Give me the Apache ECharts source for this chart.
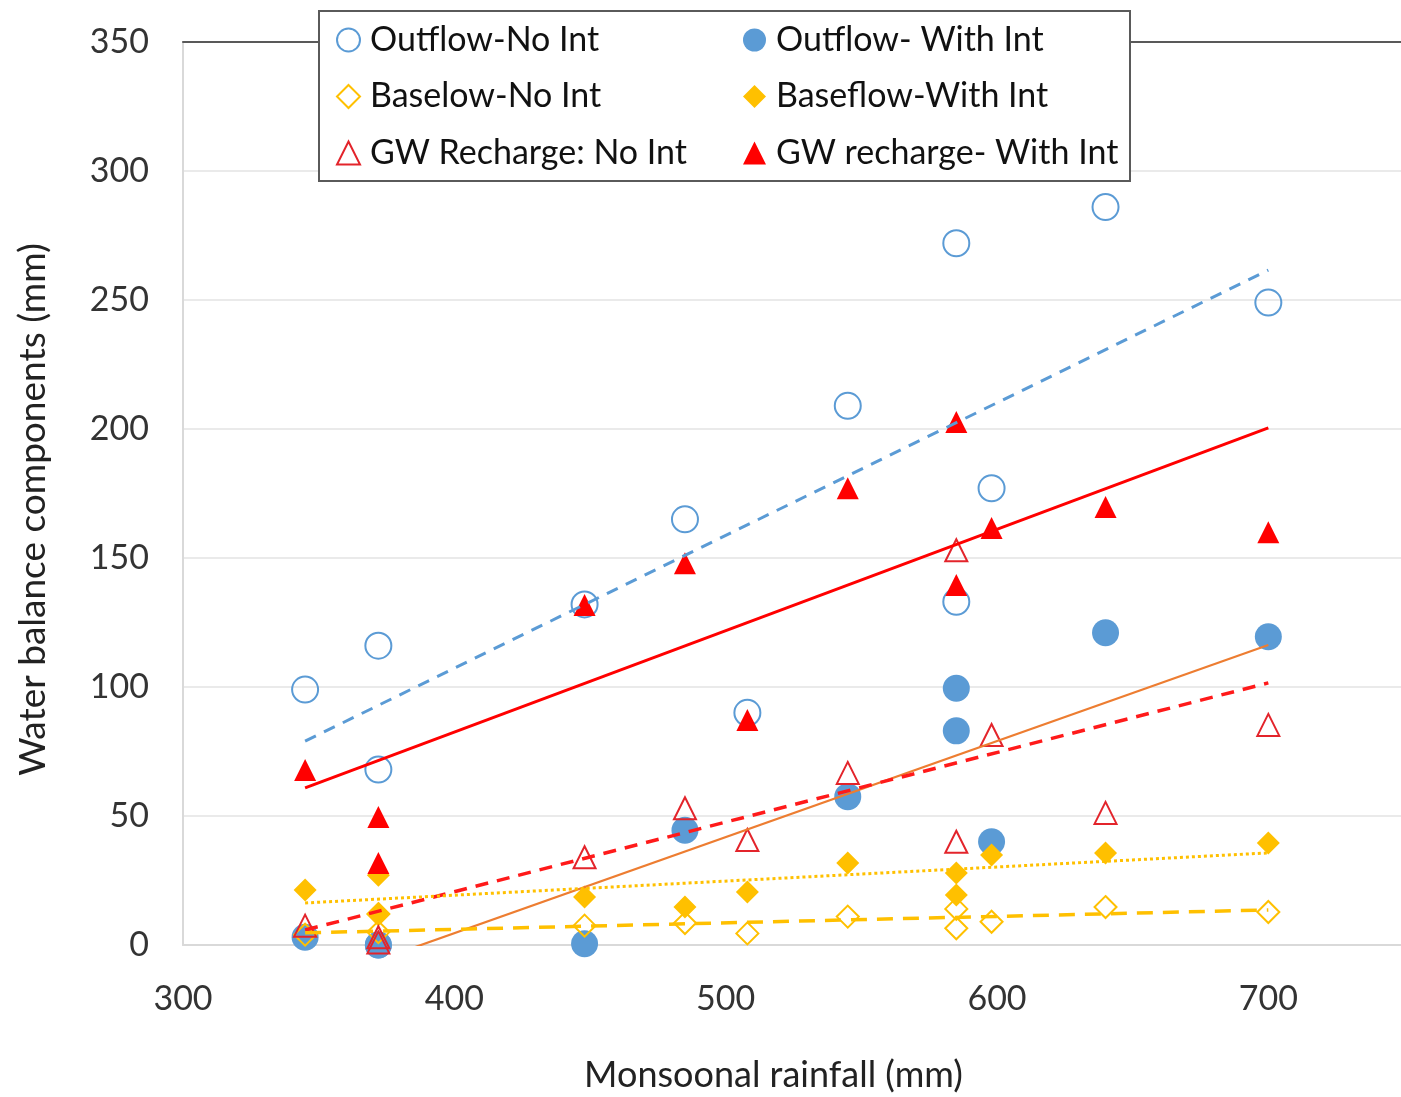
<!DOCTYPE html>
<html><head><meta charset="utf-8">
<script src="https://cdn.jsdelivr.net/npm/echarts@6/dist/echarts.min.js"></script>
<style>html,body{margin:0;padding:0;background:#fff}#c{width:1401px;height:1097px}</style>
</head><body><div id="c"></div>
<script>
// Monsoonal rainfall (mm) of each year
const rainfall = [345, 372, 372, 448, 485, 508, 545, 585, 585, 598, 640, 700];
// Water balance components (mm)
const outflowNoInt   = [99, 116, 68, 132, 165, 90, 209, 272, 133, 177, 286, 249];
const outflowWithInt = [3, 0, 0, 0.5, 44.5, null, 57.5, 99.5, 83, 40, 121, 119.5];
const baseNoInt      = [4, 5, 12, 7.5, 8.5, 4.5, 11, 14, 6.5, 9, 14.7, 12.8];
const baseWithInt    = [21.3, 27, 12, 18.6, 14.7, 20.5, 31.8, 27.9, 19.4, 34.9, 35.7, 39.5];
const gwNoInt        = [7.5, 3, 1, 34, 53, 40.7, 66.7, 153, 40, 81.4, 51.2, 85.3];
const gwWithInt      = [67.8, 49.6, 31.8, 131.8, 148, 87.2, 177, 202.7, 139.5, 161.6, 169.8, 160];
// Linear trend lines (start / end)
const trendX = [345, 700];
const trendOutflowNoInt   = [79, 261.6];
const trendOutflowWithInt = [-15.9, 116.3];
const trendBaseNoInt      = [4.7, 13.6];
const trendBaseWithInt    = [16.3, 35.7];
const trendGwNoInt        = [5.8, 101.6];
const trendGwWithInt      = [60.9, 200.4];
const xTicks = [300, 400, 500, 600, 700];
const yTicks = [0, 50, 100, 150, 200, 250, 300, 350];

const names = ['Outflow-No Int', 'Outflow- With Int', 'Baselow-No Int', 'Baseflow-With Int', 'GW Recharge: No Int', 'GW recharge- With Int'];
const FONT = 'Lato';
const pts = v => rainfall.map((x, i) => [x, v[i]]).filter(p => p[1] !== null);
const tr = v => trendX.map((x, i) => [x, v[i]]);
const hollow = 'rgba(255,255,255,0)';

function scatter(name, data, symbol, size, fill, border, z) {
  return {
    type: 'scatter', name, data: pts(data), symbol, symbolSize: size, clip: false, z,
    itemStyle: { color: fill, borderColor: border, borderWidth: fill === hollow ? 2 : 0, opacity: 1 },
    emphasis: { disabled: true }
  };
}
function trend(data, color, width, type) {
  return {
    type: 'line', data: tr(data), showSymbol: false, symbol: 'none', clip: true, z: 5, silent: true,
    lineStyle: { color, width, type }, emphasis: { disabled: true }
  };
}
const legendText = { fontSize: 34, color: '#111', fontFamily: FONT, padding: [0, 0, 0, 5] };

const chart = echarts.init(document.getElementById('c'), null, { renderer: 'canvas' });
chart.setOption({
  animation: false,
  backgroundColor: '#fff',
  textStyle: { fontFamily: FONT },
  grid: { left: 183, width: 1221, top: 42, bottom: 152, containLabel: false, outerBoundsMode: 'none' },
  xAxis: [{
    type: 'value', min: 300, max: 750, interval: 100, position: 'bottom',
    name: 'Monsoonal rainfall (mm)', nameLocation: 'middle', nameGap: 112,
    nameTextStyle: { fontSize: 36, color: '#222', fontFamily: FONT, padding: [0, 40, 0, 0] },
    axisLine: { show: true, lineStyle: { color: '#D9D9D9', width: 2 } },
    axisTick: { show: false }, splitLine: { show: false },
    axisLabel: { fontSize: 34, color: '#333', margin: 37, fontFamily: FONT,
      formatter: v => xTicks.includes(v) ? String(v) : '' }
  }, {
    type: 'value', min: 300, max: 750, position: 'top',
    axisLine: { show: true, lineStyle: { color: '#595959', width: 2 } },
    axisTick: { show: false }, axisLabel: { show: false }, splitLine: { show: false }
  }],
  yAxis: {
    type: 'value', min: 0, max: 350, interval: 50,
    name: 'Water balance components (mm)', nameLocation: 'middle', nameGap: 131,
    nameTextStyle: { fontSize: 37, color: '#222', fontFamily: FONT, padding: [0, 32, 0, 0] },
    axisLine: { show: true, lineStyle: { color: '#D9D9D9', width: 2 } },
    axisTick: { show: false },
    splitLine: { show: true, lineStyle: { color: '#E3E3E3', width: 1.5 } },
    axisLabel: { fontSize: 34, color: '#333', margin: 34, fontFamily: FONT,
      formatter: v => yTicks.includes(v) ? String(v) : '' }
  },
  legend: [{
    orient: 'vertical', left: 336, top: 23, padding: 0, itemGap: 22.5, itemWidth: 23, itemHeight: 23,
    data: [names[0], names[2], names[4]], z: 20, textStyle: legendText
  }, {
    orient: 'vertical', left: 743, top: 23, padding: 0, itemGap: 22.5, itemWidth: 23, itemHeight: 23,
    data: [names[1], names[3], names[5]], z: 20, textStyle: legendText
  }],
  graphic: [{
    type: 'rect', z: 10, shape: { x: 319, y: 11, width: 811, height: 170 },
    style: { fill: '#fff', stroke: '#5a5a5a', lineWidth: 2 }
  }],
  series: [
    scatter(names[0], outflowNoInt, 'circle', 26, hollow, '#5B9BD5', 2),
    scatter(names[1], outflowWithInt, 'circle', 27, '#5B9BD5', '#5B9BD5', 2),
    scatter(names[2], baseNoInt, 'diamond', 22, hollow, '#FFC000', 3),
    scatter(names[3], baseWithInt, 'diamond', 23, '#FFC000', '#FFC000', 3),
    scatter(names[4], gwNoInt, 'triangle', 22, hollow, '#E3242B', 4),
    scatter(names[5], gwWithInt, 'triangle', 22, '#FF0000', '#FF0000', 4),
    trend(trendOutflowNoInt, '#5B9BD5', 3, [12, 9]),
    trend(trendGwWithInt, '#FF0000', 3, 'solid'),
    trend(trendOutflowWithInt, '#ED7D31', 2.2, 'solid'),
    trend(trendGwNoInt, '#FF1A1A', 3.5, [13, 9]),
    trend(trendBaseWithInt, '#FFC000', 3, [3, 3]),
    trend(trendBaseNoInt, '#FFC000', 3.5, [16, 10])
  ]
});
</script></body></html>
